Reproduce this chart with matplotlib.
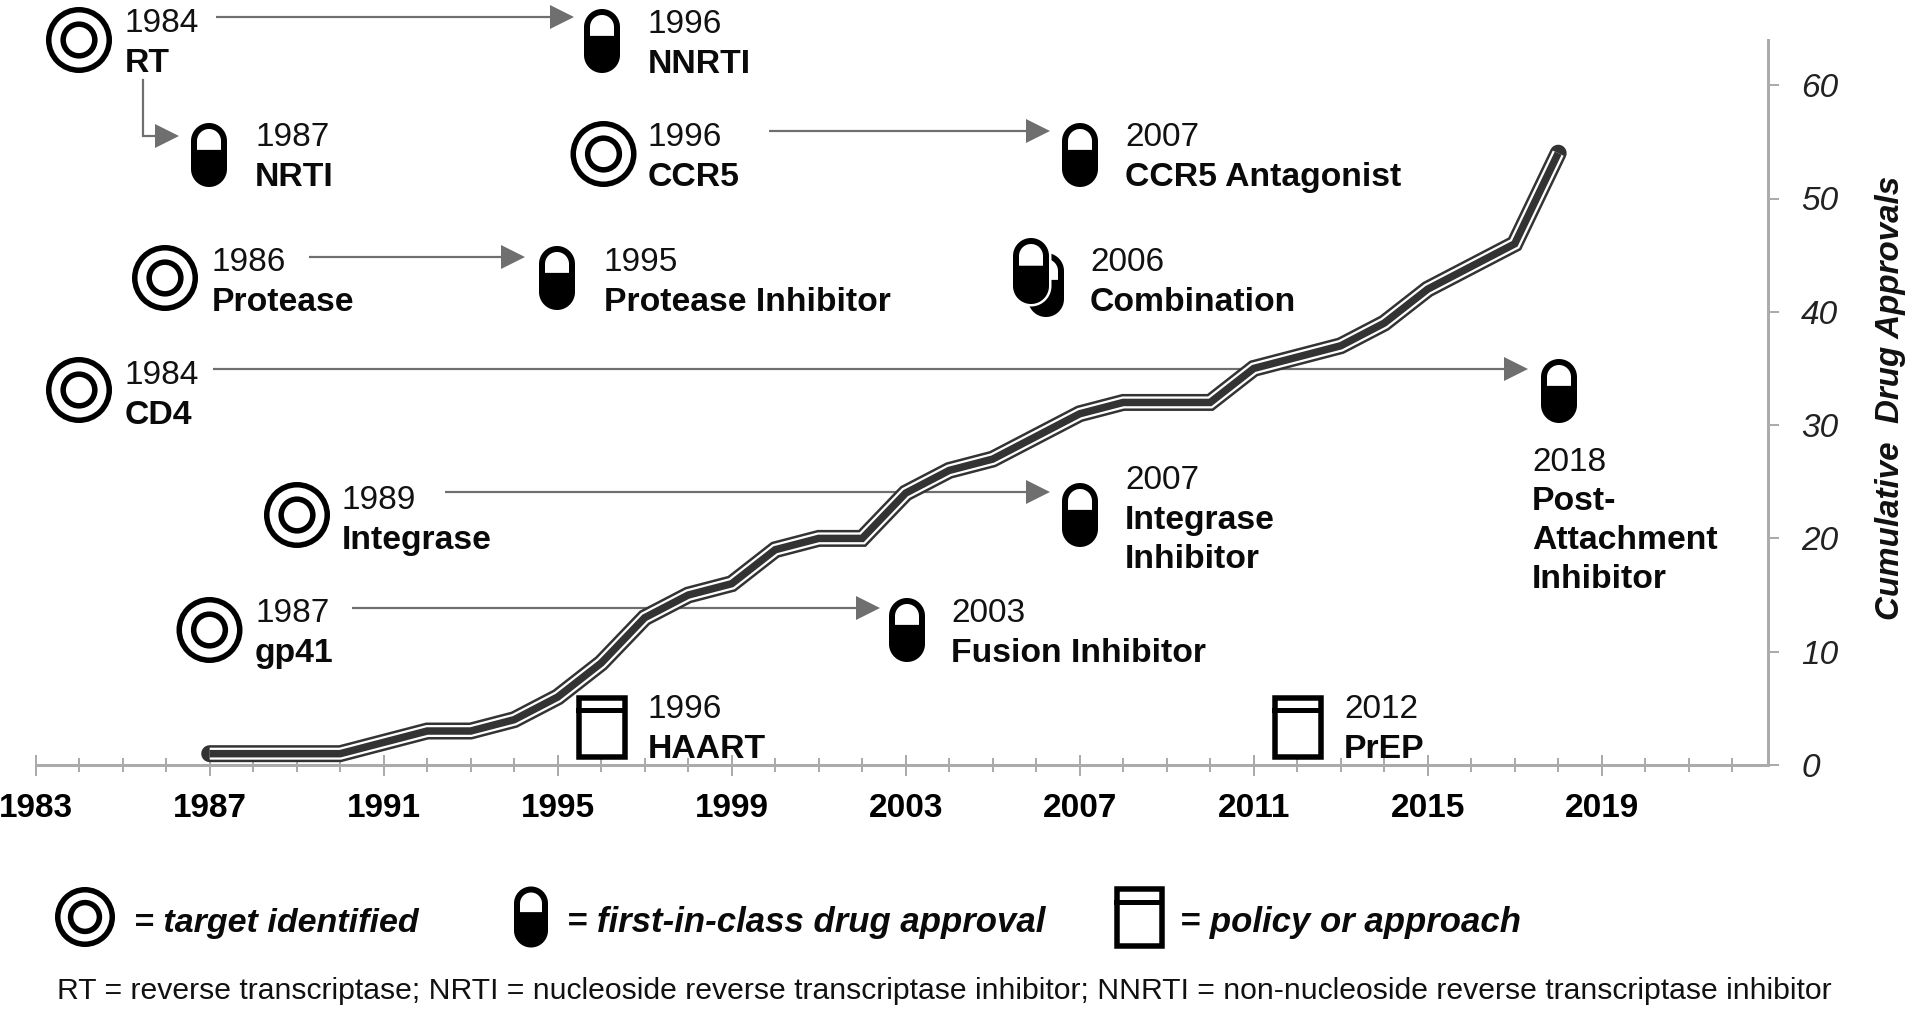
import numpy as np
import matplotlib
matplotlib.use("Agg")
import matplotlib.pyplot as plt
from matplotlib.patches import Circle, Rectangle, Polygon
from matplotlib.transforms import Affine2D

plt.rcParams['font.family'] = ['Liberation Sans', 'DejaVu Sans']

# ---- data ----
years = [1987, 1988, 1989, 1990, 1991, 1992, 1993, 1994, 1995, 1996, 1997, 1998, 1999, 2000, 2001, 2002,
         2003, 2004, 2005, 2006, 2007, 2008, 2009, 2010, 2011, 2012, 2013, 2014, 2015, 2016, 2017, 2018]
approvals = [1, 1, 1, 1, 2, 3, 3, 4, 6, 9, 13, 15, 16, 19, 20, 20,
             24, 26, 27, 29, 31, 32, 32, 32, 35, 36, 37, 39, 42, 44, 46, 54]
x_major = [1983, 1987, 1991, 1995, 1999, 2003, 2007, 2011, 2015, 2019]
x_minor = list(range(1983, 2023))
y_major = [0, 10, 20, 30, 40, 50, 60]
ylabel = "Cumulative  Drug Approvals"

target_names = ["RT", "CCR5", "Protease", "CD4", "Integrase", "gp41"]
target_years = ["1984", "1996", "1986", "1984", "1989", "1987"]
drug_names = ["NNRTI", "NRTI", "Protease Inhibitor", "CCR5 Antagonist", "Integrase\nInhibitor",
              "Fusion Inhibitor", "Post-\nAttachment\nInhibitor"]
drug_years = ["1996", "1987", "1995", "2007", "2007", "2003", "2018"]
policy_names = ["HAART", "PrEP"]
policy_years = ["1996", "2012"]
combo_name, combo_year = "Combination", "2006"
legend_labels = ["= target identified", "= first-in-class drug approval", "= policy or approach"]
footnote = "RT = reverse transcriptase; NRTI = nucleoside reverse transcriptase inhibitor; NNRTI = non-nucleoside reverse transcriptase inhibitor"

# ---- layout (pixels in the 1910x1015 canvas) ----
W, H = 1910, 1015
AX_L, AX_R, AX_T, AX_B = 35.7, 1768, 40, 765
PT = 0.72
target_pos = [(79, 40), (603.5, 154), (165, 278), (79, 390), (297, 515), (209.5, 630)]
target_text = [(124.5, 32, 72), (648, 146, 186), (212, 271, 311), (124.5, 384, 424), (342, 509, 549), (255, 622, 662)]
drug_pos = [(602, 41), (209, 155), (557, 278), (1080, 155), (1080, 515), (907, 630), (1559, 391)]
drug_text = [(648, 33, 73), (255, 146, 186), (604, 271, 311), (1125, 146, 186), (1125, 489, 529),
             (951, 622, 662), (1532, 471, 510)]
policy_pos = [(576, 695), (1272, 695)]
policy_text = [(648, 718, 758), (1344, 718, 758)]
combo_text = (1090, 271, 311)
arrows = [(216, 574, 17), (309, 525, 257), (213, 1528, 369), (445, 1050, 492),
          (769, 1050, 131), (352, 880, 608)]
GRAY = "#6f6f6f"
AXC = "#ababab"
YEAR_FS, NAME_FS = 24, 24.3

fig = plt.figure(figsize=(W / 100, H / 100), dpi=100, facecolor="white")
ax = fig.add_axes([AX_L / W, 1 - AX_B / H, (AX_R - AX_L) / W, (AX_B - AX_T) / H])
ax.set_xlim(1983, 1983 + (AX_R - AX_L) / 43.5)
ax.set_ylim(0, (AX_B - AX_T) / 11.33)
ax.patch.set_alpha(0)
for s in ("left", "top"):
    ax.spines[s].set_visible(False)
for s in ("right", "bottom"):
    ax.spines[s].set_color(AXC)
    ax.spines[s].set_linewidth(3 * PT)
ax.yaxis.tick_right()
ax.set_xticks(x_major)
ax.set_xticks(x_minor, minor=True)
ax.set_yticks(y_major)
ax.tick_params(axis="x", which="major", direction="inout", length=21 * PT, width=2 * PT, color=AXC, pad=12.5,
               labelsize=24)
ax.tick_params(axis="x", which="minor", direction="inout", length=14 * PT, width=2 * PT, color=AXC)
ax.tick_params(axis="y", which="major", direction="out", length=11 * PT, width=2 * PT, color=AXC, pad=16,
               labelsize=24, labelcolor="#222222")
for t in ax.get_xticklabels():
    t.set_fontweight("bold")
for t in ax.get_yticklabels():
    t.set_fontstyle("italic")

px = Affine2D().scale(1, -1).translate(0, H)
ax.text(1890, 398, ylabel, transform=px, rotation=90, ha="center", va="center", fontsize=23.9,
        fontweight="bold", fontstyle="italic", color="#111111", clip_on=False)

# curve: dark outline, white gap, dark core
ax.plot(years, approvals, color="#333333", lw=17 * PT, solid_capstyle="round", solid_joinstyle="miter", zorder=3, clip_on=False)
ax.plot(years, approvals, color="white", lw=12 * PT, solid_capstyle="butt", solid_joinstyle="miter", zorder=3.1, clip_on=False)
ax.plot(years, approvals, color="#333333", lw=7.5 * PT, solid_capstyle="butt", solid_joinstyle="miter", zorder=3.2, clip_on=False)


def add(p, z=5):
    p.set_transform(px)
    p.set_clip_on(False)
    p.set_zorder(z)
    ax.add_artist(p)


def target(x, y, r=33):
    add(Circle((x, y), r - 2.75, fc="white", ec="black", lw=5.5 * PT))
    add(Circle((x, y), r * 0.48, fc="white", ec="black", lw=5.5 * PT))


def capsule_outline(x, y, w, h):
    r = w / 2
    a = np.linspace(np.pi, 2 * np.pi, 40)
    top = np.c_[x + r * np.cos(a), y - h / 2 + r + r * np.sin(a)]
    b = np.linspace(0, np.pi, 40)
    bot = np.c_[x + r * np.cos(b), y + h / 2 - r + r * np.sin(b)]
    return np.vstack([top, bot])


def capsule(x, y, w=36, h=64, z=5, halo=False):
    if halo:
        add(Polygon(capsule_outline(x, y, w + 5, h + 5), closed=True, fc="white", ec="none"), z - 0.1)
    add(Polygon(capsule_outline(x, y, w, h), closed=True, fc="black", ec="none"), z)
    s = 6
    ri = w / 2 - s
    a = np.linspace(np.pi, 2 * np.pi, 40)
    ytop = y - h / 2 + s
    ydiv = y - h / 2 + 0.42 * h
    arc = np.c_[x + ri * np.cos(a), ytop + ri + ri * np.sin(a)]
    white = np.vstack([[(x - ri, ydiv)], arc, [(x + ri, ydiv)]])
    add(Polygon(white, closed=True, fc="white", ec="none"), z + 0.1)


def box(x, y, w=51, h=64, div=15):
    add(Rectangle((x + 2.5, y + 2.5), w - 5, h - 5, fc="white", ec="black", lw=5.5 * PT), 5)
    add(Rectangle((x, y + div - 2.5), w, 5, fc="black", ec="none"), 5.1)


def arrow(x0, x1, y, hl=24, hh=24):
    add(plt.Line2D([x0, x1 - hl + 2], [y, y], color=GRAY, lw=2.2 * PT, solid_capstyle="butt"), 2)
    add(Polygon([(x1 - hl, y - hh / 2), (x1, y), (x1 - hl, y + hh / 2)], closed=True, fc=GRAY, ec="none"), 2)


def label(x, y_year, y_name, year, name, lh=39):
    add(plt.Text(x, y_year, year, fontsize=YEAR_FS, color="#111111", va="baseline", ha="left"), 6)
    for i, part in enumerate(name.split("\n")):
        add(plt.Text(x, y_name + i * lh, part, fontsize=NAME_FS, fontweight="bold", color="#0a0a0a", va="baseline", ha="left"), 6)


for (x, y), (tx, ty, ny), n, yr in zip(target_pos, target_text, target_names, target_years):
    target(x, y)
    label(tx, ty, ny, yr, n)
for (x, y), (tx, ty, ny), n, yr in zip(drug_pos, drug_text, drug_names, drug_years):
    capsule(x, y)
    label(tx, ty, ny, yr, n)
for (x, y), (tx, ty, ny), n, yr in zip(policy_pos, policy_text, policy_names, policy_years):
    box(x, y)
    label(tx, ty, ny, yr, n)
capsule(1046, 285, w=36, h=64, z=5)
capsule(1031, 271, w=36, h=66, z=7, halo=True)
label(*combo_text, combo_year, combo_name)

for a in arrows:
    arrow(*a)
# elbow arrow RT -> NRTI
add(plt.Line2D([143, 143, 160], [80, 136, 136], color=GRAY, lw=2.2 * PT, solid_joinstyle="miter"), 2)
add(Polygon([(155, 124), (179, 136), (155, 148)], closed=True, fc=GRAY, ec="none"), 2)

# legend
target(85, 917, r=30)
add(plt.Text(134, 932, legend_labels[0], fontsize=24.5, fontweight="bold", fontstyle="italic", color="#0a0a0a", va="baseline"), 6)
capsule(531, 917, w=34, h=61)
add(plt.Text(567, 932, legend_labels[1], fontsize=25, fontweight="bold", fontstyle="italic", color="#0a0a0a", va="baseline"), 6)
box(1114, 886, w=50, h=62, div=16)
add(plt.Text(1180, 932, legend_labels[2], fontsize=25, fontweight="bold", fontstyle="italic", color="#0a0a0a", va="baseline"), 6)
add(plt.Text(57, 999, footnote, fontsize=21.7, color="#111111", va="baseline"), 6)

fig.savefig("out.png", dpi=100, facecolor="white")
